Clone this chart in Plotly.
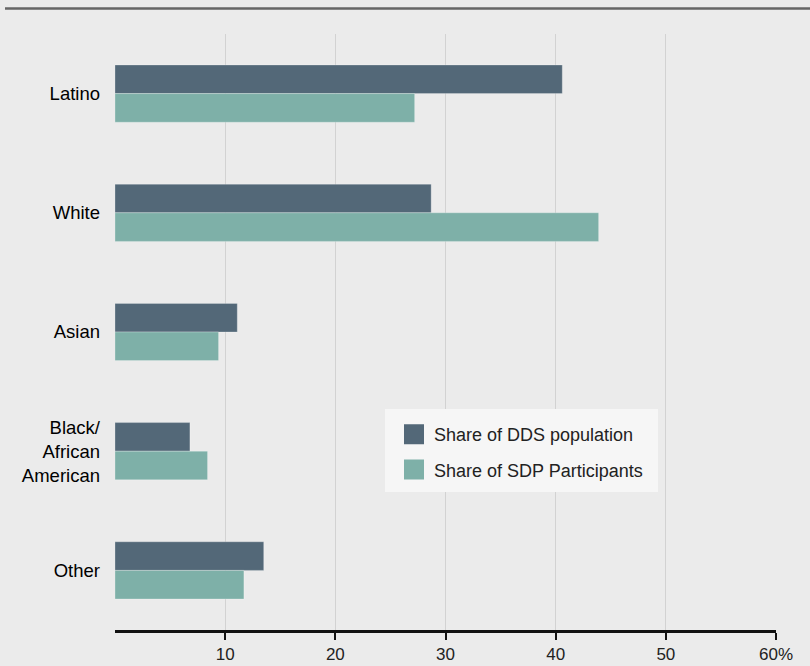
import plotly.graph_objects as go

categories = ["Latino", "White", "Asian", "Black/<br>African<br>American", "Other"]
dds_share = [40.6, 28.7, 11.1, 6.8, 13.5]
sdp_share = [27.2, 43.9, 9.4, 8.4, 11.7]
tick_vals = [10, 20, 30, 40, 50, 60]
tick_text = ["10", "20", "30", "40", "50", "60%"]
series_names = ["Share of DDS population", "Share of SDP Participants"]
series_colors = ["#536878", "#7eb0a8"]

FONT = "Liberation Sans, Arial, Helvetica, sans-serif"
PW, PH = 661, 596  # plot area size in px

fig = go.Figure()
for vals, name, color in zip([dds_share, sdp_share], series_names, series_colors):
    fig.add_trace(go.Bar(
        y=categories, x=vals, orientation="h", name=name, showlegend=False,
        marker=dict(color=color, line=dict(color="rgba(255,255,255,0.25)", width=1)),
    ))
# legend entries with larger swatches
for i, (name, color) in enumerate(zip(series_names, series_colors)):
    fig.add_trace(go.Scatter(
        x=[None], y=[None], mode="markers", name=name, legendgroup=f"g{i}",
        marker=dict(symbol="square", size=16, color=color, line=dict(color=color, width=4)),
    ))

fig.update_layout(
    width=810, height=666,
    margin=dict(l=115, r=34, t=34, b=36, autoexpand=False),
    paper_bgcolor="#ebebeb", plot_bgcolor="#ebebeb",
    barmode="group", bargap=0.52, bargroupgap=0,
    font=dict(family=FONT, size=18, color="#222"),
    showlegend=True,
    legend=dict(
        x=(394 - 115) / PW, y=(630 - 416) / PH, xanchor="left", yanchor="top",
        bgcolor="rgba(0,0,0,0)", borderwidth=0,
        font=dict(size=18, color="#222"),
        traceorder="grouped",
        itemsizing="trace",
        tracegroupgap=9,
    ),
    xaxis=dict(
        range=[0, 60], tickvals=tick_vals, ticktext=tick_text,
        showgrid=True, gridcolor="#d2d2d2", gridwidth=1,
        zeroline=False, automargin=False,
        showline=True, linecolor="#111", linewidth=2.5,
        ticks="outside", ticklen=7, tickwidth=2, tickcolor="#111",
        ticklabelstandoff=0,
        tickfont=dict(size=17, color="#222"),
    ),
    yaxis=dict(
        autorange="reversed", showgrid=False, zeroline=False, showline=False,
        ticks="", ticklabelstandoff=14, automargin=False,
        tickfont=dict(size=18.5, color="#000"),
    ),
    shapes=[
        dict(type="line", xref="paper", yref="paper",
             x0=-110 / PW, x1=1 + 34 / PW, y0=(630 - 8.5) / PH, y1=(630 - 8.5) / PH,
             line=dict(color="#666", width=2.5)),
        dict(type="rect", xref="paper", yref="paper", layer="above",
             x0=(385 - 115) / PW, x1=(658 - 115) / PW,
             y0=(630 - 492) / PH, y1=(630 - 409) / PH,
             fillcolor="#f6f6f6", line=dict(width=0)),
    ],
)

fig.write_html("out.html")
